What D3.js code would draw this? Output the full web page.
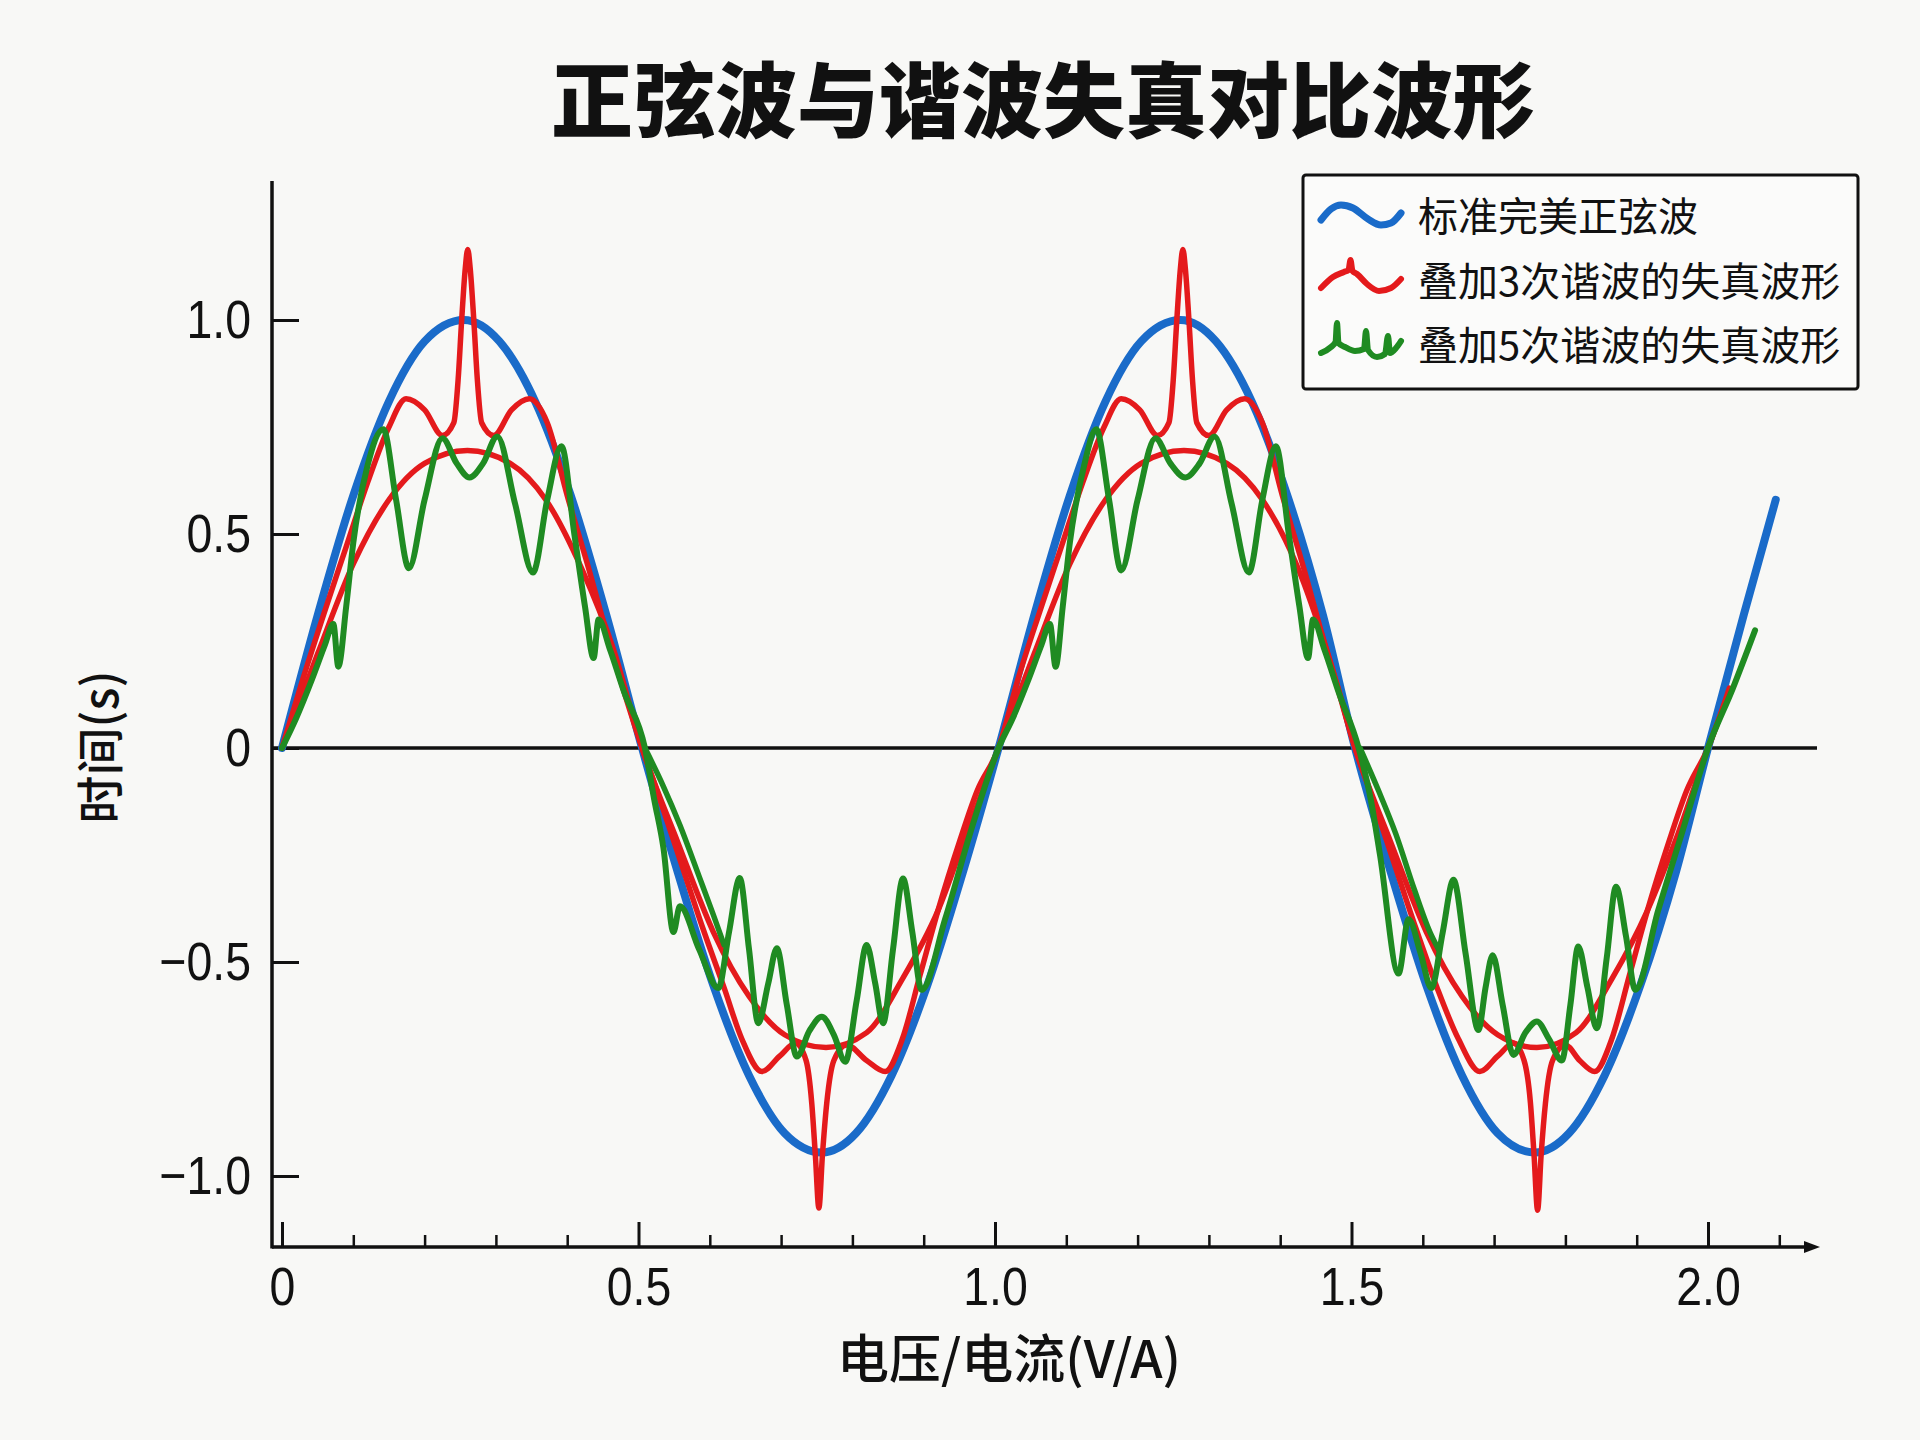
<!DOCTYPE html>
<html>
<head>
<meta charset="utf-8">
<script src="https://cdn.jsdelivr.net/npm/d3@7"></script>
<style>
  body { margin: 0; background: #f8f8f6; }
  svg { display: block; }
</style>
</head>
<body>
<div id="chart"></div>
<script>

// text
var titleText = "正弦波与谐波失真对比波形";
var xLabelText = "电压/电流(V/A)";
var yLabelText = "时间(s)";
var legendNames = ["标准完美正弦波", "叠加3次谐波的失真波形", "叠加5次谐波的失真波形"];

// ticks
var xMajorTicks = [0, 0.5, 1.0, 1.5, 2.0];
var xMinorTicks = [0.1, 0.2, 0.3, 0.4, 0.6, 0.7, 0.8, 0.9, 1.1, 1.2, 1.3, 1.4, 1.6, 1.7, 1.8, 1.9, 2.1];
var yTicks = [-1.0, -0.5, 0, 0.5, 1.0];

// curves: [x, y]
var blueWave = [[0,0],[0.05,0.31],[0.10,0.59],[0.15,0.81],[0.20,0.95],[0.255,1.0],[0.305,0.95],[0.355,0.81],[0.405,0.59],[0.455,0.31],[0.505,0],
  [0.555,-0.29],[0.605,-0.555],[0.655,-0.765],[0.705,-0.90],[0.757,-0.945],[0.805,-0.90],[0.855,-0.765],[0.905,-0.555],[0.955,-0.29],[1.005,0],
  [1.055,0.31],[1.105,0.59],[1.155,0.81],[1.205,0.95],[1.26,1.0],[1.31,0.95],[1.36,0.81],[1.41,0.59],[1.46,0.31],[1.505,0],
  [1.555,-0.29],[1.605,-0.555],[1.655,-0.765],[1.705,-0.90],[1.757,-0.945],[1.805,-0.90],[1.855,-0.765],[1.905,-0.555],[1.955,-0.29],[2.0,0],
  [2.05,0.31],[2.095,0.58]];

var redSoft = [[0,0],[0.05,0.22],[0.10,0.43],[0.15,0.58],[0.20,0.665],[0.26,0.695],[0.32,0.665],[0.37,0.58],[0.42,0.42],[0.465,0.23],[0.505,0],
  [0.555,-0.22],[0.605,-0.43],[0.655,-0.58],[0.705,-0.67],[0.763,-0.70],[0.82,-0.665],[0.87,-0.54],[0.92,-0.38],[0.96,-0.20],[1.005,0],
  [1.055,0.22],[1.105,0.43],[1.155,0.58],[1.205,0.665],[1.265,0.695],[1.325,0.665],[1.375,0.58],[1.425,0.42],[1.465,0.23],[1.505,0],
  [1.555,-0.22],[1.605,-0.43],[1.655,-0.58],[1.705,-0.67],[1.76,-0.70],[1.815,-0.665],[1.865,-0.54],[1.915,-0.38],[1.958,-0.20],[2.0,0],[2.03,0.13]];

var redSpike = [[0,0],[0.03,0.165],[0.06,0.32],[0.09,0.47],[0.12,0.62],[0.15,0.75],[0.174,0.816],[0.20,0.79],[0.225,0.73],[0.241,0.76],[0.247,0.86],[0.252,1.0],[0.257,1.12],[0.2605,1.165],[0.264,1.12],[0.269,1.0],[0.274,0.86],[0.280,0.76],[0.297,0.73],[0.322,0.79],[0.347,0.816],[0.372,0.76],[0.40,0.59],[0.43,0.42],[0.46,0.24],[0.48,0.13],[0.505,0],
  [0.53,-0.12],[0.56,-0.27],[0.59,-0.42],[0.62,-0.56],[0.645,-0.68],[0.673,-0.756],[0.698,-0.72],[0.72,-0.69],[0.735,-0.73],[0.743,-0.83],[0.748,-0.95],[0.753,-1.075],[0.758,-0.95],[0.764,-0.83],[0.774,-0.73],[0.792,-0.694],[0.82,-0.73],[0.846,-0.756],[0.87,-0.68],[0.895,-0.53],[0.92,-0.38],[0.95,-0.22],[0.975,-0.10],[1.005,0],
  [1.033,0.165],[1.063,0.32],[1.093,0.47],[1.123,0.62],[1.153,0.75],[1.177,0.816],[1.203,0.79],[1.228,0.73],[1.244,0.76],[1.25,0.86],[1.255,1.0],[1.26,1.12],[1.2635,1.165],[1.267,1.12],[1.272,1.0],[1.277,0.86],[1.283,0.76],[1.30,0.73],[1.325,0.79],[1.35,0.816],[1.375,0.76],[1.403,0.59],[1.433,0.42],[1.463,0.24],[1.483,0.13],[1.505,0],
  [1.53,-0.12],[1.56,-0.27],[1.59,-0.42],[1.62,-0.56],[1.65,-0.68],[1.68,-0.756],[1.705,-0.72],[1.727,-0.69],[1.742,-0.73],[1.751,-0.83],[1.756,-0.95],[1.761,-1.08],[1.766,-0.95],[1.772,-0.83],[1.782,-0.73],[1.80,-0.694],[1.82,-0.73],[1.841,-0.756],[1.865,-0.68],[1.89,-0.53],[1.915,-0.38],[1.945,-0.22],[1.97,-0.10],[2.0,0],[2.03,0.14]];

var greenWave = [[0,0],[0.02,0.07],[0.042,0.16],[0.06,0.24],[0.072,0.29],[0.079,0.19],[0.09,0.33],[0.10,0.48],[0.12,0.66],[0.142,0.745],[0.16,0.58],[0.178,0.42],[0.20,0.58],[0.225,0.724],[0.245,0.665],[0.263,0.632],[0.282,0.665],[0.302,0.728],[0.327,0.57],[0.352,0.41],[0.372,0.58],[0.392,0.705],[0.41,0.50],[0.425,0.33],[0.437,0.21],[0.444,0.30],[0.46,0.23],[0.48,0.13],[0.509,0],
  [0.522,-0.12],[0.535,-0.234],[0.549,-0.43],[0.558,-0.37],[0.585,-0.47],[0.612,-0.561],[0.627,-0.43],[0.642,-0.304],[0.655,-0.47],[0.668,-0.643],[0.682,-0.55],[0.694,-0.468],[0.708,-0.60],[0.722,-0.721],[0.74,-0.66],[0.757,-0.628],[0.774,-0.67],[0.790,-0.733],[0.806,-0.59],[0.820,-0.46],[0.832,-0.55],[0.843,-0.643],[0.857,-0.47],[0.871,-0.305],[0.884,-0.43],[0.897,-0.565],[0.93,-0.40],[0.965,-0.20],[1.005,0],
  [1.025,0.07],[1.047,0.16],[1.065,0.24],[1.077,0.29],[1.085,0.19],[1.095,0.33],[1.105,0.48],[1.125,0.66],[1.142,0.745],[1.16,0.58],[1.177,0.415],[1.20,0.58],[1.225,0.724],[1.246,0.665],[1.267,0.632],[1.287,0.665],[1.308,0.728],[1.332,0.57],[1.356,0.41],[1.375,0.58],[1.394,0.705],[1.412,0.50],[1.427,0.33],[1.439,0.21],[1.446,0.30],[1.462,0.23],[1.482,0.13],[1.51,0],
  [1.527,-0.12],[1.54,-0.25],[1.566,-0.527],[1.58,-0.40],[1.597,-0.48],[1.612,-0.561],[1.628,-0.43],[1.643,-0.308],[1.66,-0.48],[1.678,-0.659],[1.688,-0.56],[1.698,-0.484],[1.712,-0.60],[1.727,-0.717],[1.744,-0.665],[1.760,-0.639],[1.777,-0.68],[1.795,-0.73],[1.807,-0.60],[1.818,-0.464],[1.831,-0.56],[1.844,-0.655],[1.858,-0.49],[1.871,-0.324],[1.885,-0.44],[1.898,-0.565],[1.93,-0.38],[1.965,-0.19],[2.0,0],[2.035,0.14],[2.066,0.275]];

// the doubled green stroke just after each downward zero crossing
var greenBranch1 = [[0.509,0],[0.535,-0.09],[0.558,-0.18],[0.585,-0.30],[0.605,-0.39],[0.62,-0.46]];
var greenBranch2 = [[1.512,0],[1.538,-0.10],[1.562,-0.20],[1.588,-0.33],[1.61,-0.43],[1.622,-0.47]];

// legend icon shapes (local units, 0..80 wide)
var iconBlue = [[0,4],[10,-7],[20,-11],[32,-8],[47,3],[60,9],[70,7],[80,-3]];
var iconRed = [[0,7],[12,-4],[23,-9],[27.5,-11],[29.5,-21],[31.5,-10],[36,-7],[46,3],[58,10],[70,7],[80,-2]];
var iconGreen = [[0,8],[10,2],[14.5,-3],[16,-22],[17.5,-2],[24,2],[34,6],[43,4],[45,-14],[47,5],[56,12],[64,9],[67,-9],[69,8],[75,3],[80,-4]];

var colors = ["#1a6bc9", "#e41a1c", "#1f8b22"];

var svgWidth = 1920;
var svgHeight = 1440;

var svg = d3.select("#chart")
  .append("svg")
  .attr("width", svgWidth)
  .attr("height", svgHeight);

svg.append("rect")
  .attr("width", svgWidth)
  .attr("height", svgHeight)
  .attr("fill", "#f8f8f6");

var xScale = d3.scaleLinear().domain([0, 2]).range([282, 1708]);
var yScale = d3.scaleLinear().domain([-1, 1]).range([1176, 320]);

var axisLeftX = 272;
var axisBottomY = 1247;

var tickFont = "'Liberation Sans', Arial, sans-serif";
var cjkFont = "'Noto Sans CJK SC', 'Noto Sans', sans-serif";
var fmt = function(d) { return d === 0 ? "0" : d3.format(".1f")(d); };
var squeeze = 0.86; // tick digits in the picture are condensed

// title
svg.append("text")
  .attr("x", 1043)
  .attr("y", 131)
  .attr("text-anchor", "middle")
  .style("font-family", cjkFont)
  .style("font-size", "82px")
  .style("font-weight", 900)
  .attr("fill", "#111")
  .text(titleText);

// x axis ticks (pointing up into the plot)
var xMinorAxis = d3.axisBottom(xScale)
  .tickValues(xMinorTicks)
  .tickSizeInner(-12)
  .tickSizeOuter(0)
  .tickFormat("");

var xMajorAxis = d3.axisBottom(xScale)
  .tickValues(xMajorTicks)
  .tickSizeInner(-25)
  .tickSizeOuter(0)
  .tickPadding(20)
  .tickFormat(fmt);

var gxMinor = svg.append("g")
  .attr("transform", `translate(0, ${axisBottomY})`)
  .call(xMinorAxis);
gxMinor.select(".domain").remove();
gxMinor.selectAll("line").attr("stroke", "#111").attr("stroke-width", 2.5);

var gxMajor = svg.append("g")
  .attr("transform", `translate(0, ${axisBottomY})`)
  .call(xMajorAxis);
gxMajor.select(".domain").remove();
gxMajor.selectAll("line").attr("stroke", "#111").attr("stroke-width", 3);
gxMajor.selectAll("text")
  .attr("fill", "#111")
  .attr("transform", `scale(${squeeze},1)`)
  .style("font-family", tickFont)
  .style("font-size", "54px");

// y axis ticks (pointing right)
var yAxis = d3.axisLeft(yScale)
  .tickValues(yTicks)
  .tickSizeInner(-27)
  .tickSizeOuter(0)
  .tickPadding(21)
  .tickFormat(fmt);

var gy = svg.append("g")
  .attr("transform", `translate(${axisLeftX}, 0)`)
  .call(yAxis);
gy.select(".domain").remove();
gy.selectAll("line").attr("stroke", "#111").attr("stroke-width", 3);
gy.selectAll("text")
  .attr("fill", "#111")
  .attr("x", 0)
  .attr("transform", `translate(-21,0) scale(${squeeze},1)`)
  .style("font-family", tickFont)
  .style("font-size", "54px");

// axis lines
svg.append("line")
  .attr("x1", axisLeftX).attr("y1", 181)
  .attr("x2", axisLeftX).attr("y2", axisBottomY + 1.5)
  .attr("stroke", "#111").attr("stroke-width", 3.5);

svg.append("line")
  .attr("x1", axisLeftX).attr("y1", axisBottomY)
  .attr("x2", 1808).attr("y2", axisBottomY)
  .attr("stroke", "#111").attr("stroke-width", 3.5);

svg.append("path")
  .attr("d", `M1804,${axisBottomY - 6} L1820,${axisBottomY} L1804,${axisBottomY + 6} Z`)
  .attr("fill", "#111");

// zero line
svg.append("line")
  .attr("x1", axisLeftX).attr("y1", yScale(0))
  .attr("x2", 1817).attr("y2", yScale(0))
  .attr("stroke", "#111").attr("stroke-width", 3.5);

// axis titles
svg.append("text")
  .attr("x", 1009)
  .attr("y", 1378)
  .attr("text-anchor", "middle")
  .style("font-family", cjkFont)
  .style("font-size", "52px")
  .style("font-weight", 500)
  .attr("fill", "#111")
  .text(xLabelText);

svg.append("text")
  .attr("transform", "translate(100, 747) rotate(-90)")
  .attr("y", 18)
  .attr("text-anchor", "middle")
  .style("font-family", cjkFont)
  .style("font-size", "48px")
  .style("font-weight", 500)
  .attr("fill", "#111")
  .text(yLabelText);

// curves
var line = d3.line()
  .x(d => xScale(d[0]))
  .y(d => yScale(d[1]))
  .curve(d3.curveMonotoneX);

var curves = [
  { pts: blueWave, color: colors[0], width: 8 },
  { pts: redSoft, color: colors[1], width: 5.5 },
  { pts: redSpike, color: colors[1], width: 5.5 },
  { pts: greenBranch1, color: colors[2], width: 5.5 },
  { pts: greenBranch2, color: colors[2], width: 5.5 },
  { pts: greenWave, color: colors[2], width: 6 }
];

svg.append("g")
  .selectAll("path")
  .data(curves)
  .enter()
  .append("path")
  .attr("d", d => line(d.pts))
  .attr("fill", "none")
  .attr("stroke", d => d.color)
  .attr("stroke-width", d => d.width)
  .attr("stroke-linecap", "round")
  .attr("stroke-linejoin", "round");

// legend
var legend = svg.append("g");

legend.append("rect")
  .attr("x", 1303)
  .attr("y", 175)
  .attr("width", 555)
  .attr("height", 214)
  .attr("rx", 3)
  .attr("fill", "#fbfbfa")
  .attr("stroke", "#111")
  .attr("stroke-width", 3);

var rowY = [216, 281, 345];
var icons = [iconBlue, iconRed, iconGreen];
var iconWidths = [7, 6, 6];

var iconLine = d3.line()
  .x(d => d[0])
  .y(d => d[1])
  .curve(d3.curveMonotoneX);

legendNames.forEach(function(name, i) {
  var row = legend.append("g")
    .attr("transform", `translate(1321, ${rowY[i]})`);

  row.append("path")
    .attr("d", iconLine(icons[i]))
    .attr("fill", "none")
    .attr("stroke", colors[i])
    .attr("stroke-width", iconWidths[i])
    .attr("stroke-linecap", "round")
    .attr("stroke-linejoin", "round");

  row.append("text")
    .attr("x", 97)
    .attr("y", 15)
    .style("font-family", cjkFont)
    .style("font-size", "40px")
    .attr("fill", "#111")
    .text(name);
});

</script>
</body>
</html>
